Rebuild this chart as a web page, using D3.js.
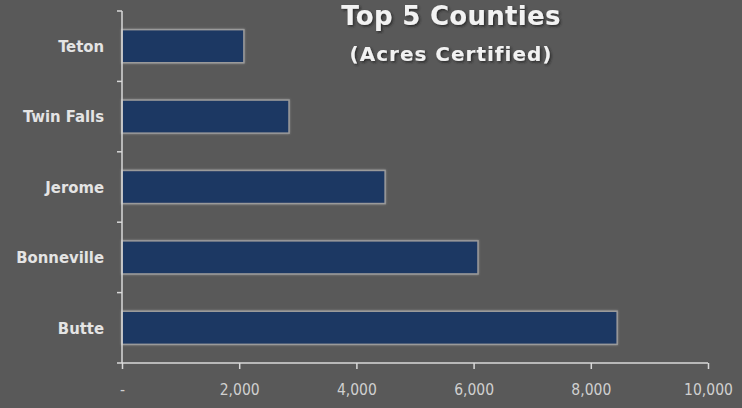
<!DOCTYPE html>
<html>
<head>
<meta charset="utf-8">
<script src="https://d3js.org/d3.v7.min.js"></script>
<style>
  html, body { margin: 0; padding: 0; background: #595959; }
  #chart { width: 742px; height: 408px; }
  .cat { font-family: "DejaVu Sans Condensed", "DejaVu Sans", sans-serif; font-stretch: condensed; font-weight: bold; font-size: 16.5px; fill: #e4e4e4; }
  .tick-x { font-family: "DejaVu Sans Condensed", "DejaVu Sans", sans-serif; font-stretch: condensed; font-size: 15.5px; fill: #d0d0d0; }
</style>
</head>
<body>
<div id="chart"></div>
<script>
  // data
  var counties = ["Teton", "Twin Falls", "Jerome", "Bonneville", "Butte"]
  var acres = [2080, 2850, 4490, 6075, 8450]
  var xTicks = [0, 2000, 4000, 6000, 8000, 10000]
  var titleLines = ["Top 5 Counties", "(Acres Certified)"]

  var width = 742, height = 408
  var plotLeft = 122, plotRight = 708, plotTop = 11, plotBottom = 363

  var svg = d3.select("#chart").append("svg")
    .attr("width", width)
    .attr("height", height)

  svg.append("rect").attr("width", width).attr("height", height).attr("fill", "#595959")

  var defs = svg.append("defs")
  var glow = defs.append("filter").attr("id", "glow")
    .attr("x", "-10%").attr("y", "-30%").attr("width", "120%").attr("height", "160%")
  glow.append("feGaussianBlur").attr("in", "SourceAlpha").attr("stdDeviation", 1.2).attr("result", "b")
  glow.append("feFlood").attr("flood-color", "#b8b8b8").attr("flood-opacity", 0.55)
  glow.append("feComposite").attr("in2", "b").attr("operator", "in").attr("result", "g")
  var m = glow.append("feMerge")
  m.append("feMergeNode").attr("in", "g")
  m.append("feMergeNode").attr("in", "SourceGraphic")

  var shadow = defs.append("filter").attr("id", "tshadow")
  shadow.append("feDropShadow").attr("dx", 1.5).attr("dy", 1.5).attr("stdDeviation", 1)
    .attr("flood-color", "#222").attr("flood-opacity", 0.8)

  var x = d3.scaleLinear().domain([0, 10000]).range([plotLeft, plotRight])
  var y = d3.scaleBand().domain(counties).range([plotTop, plotBottom]).paddingInner(0.53).paddingOuter(0.265)
  var yb = d3.scaleBand().domain(counties).range([plotTop, plotBottom])

  // bars
  svg.selectAll("rect.bar")
    .data(counties)
    .enter()
    .append("rect")
    .attr("class", "bar")
    .attr("x", x(0))
    .attr("y", d => y(d))
    .attr("width", (d, i) => x(acres[i]) - x(0))
    .attr("height", y.bandwidth())
    .attr("fill", "#1f3864")
    .attr("stroke", "#9a9a9a")
    .attr("stroke-width", 1.5)
    .attr("filter", "url(#glow)")

  // y axis with ticks between categories
  var axisColor = "#d9d9d9"
  svg.append("line")
    .attr("x1", plotLeft).attr("x2", plotLeft)
    .attr("y1", plotTop).attr("y2", plotBottom)
    .attr("stroke", axisColor).attr("stroke-width", 1.5)

  var bounds = counties.map(d => yb(d)).concat([plotBottom])
  svg.selectAll("line.ytick")
    .data(bounds)
    .enter()
    .append("line")
    .attr("class", "ytick")
    .attr("x1", plotLeft - 5).attr("x2", plotLeft)
    .attr("y1", d => d).attr("y2", d => d)
    .attr("stroke", axisColor).attr("stroke-width", 1.5)

  svg.selectAll("text.cat")
    .data(counties)
    .enter()
    .append("text")
    .attr("class", "cat")
    .attr("x", 104)
    .attr("y", d => yb(d) + yb.bandwidth() / 2)
    .attr("dy", "0.35em")
    .attr("text-anchor", "end")
    .text(d => d)

  // x axis
  var xAxis = d3.axisBottom(x)
    .tickValues(xTicks)
    .tickSize(6)
    .tickFormat(d => d === 0 ? "-" : d3.format(",")(d))

  var gx = svg.append("g")
    .attr("transform", "translate(0," + plotBottom + ")")
    .call(xAxis)
  gx.select(".domain").attr("stroke", axisColor).attr("stroke-width", 1.5)
    .attr("d", "M" + plotLeft + ",0H" + plotRight)
  gx.selectAll(".tick line").attr("stroke", axisColor).attr("stroke-width", 1.5)
  gx.selectAll(".tick text")
    .attr("class", "tick-x")
    .attr("y", 27)
    .attr("dy", "0.35em")
    .attr("fill", null)

  // title
  svg.append("text")
    .attr("x", 451).attr("y", 25)
    .attr("text-anchor", "middle")
    .attr("filter", "url(#tshadow)")
    .style("font-family", "'DejaVu Sans', sans-serif")
    .style("font-weight", "bold")
    .style("font-size", "26px")
    .style("letter-spacing", "0.3px")
    .style("fill", "#f2f2f2")
    .text(titleLines[0])

  svg.append("text")
    .attr("x", 451).attr("y", 61)
    .attr("text-anchor", "middle")
    .attr("filter", "url(#tshadow)")
    .style("font-family", "'DejaVu Sans', sans-serif")
    .style("font-weight", "bold")
    .style("font-size", "20px")
    .style("letter-spacing", "1px")
    .style("fill", "#f2f2f2")
    .text(titleLines[1])
</script>
</body>
</html>
